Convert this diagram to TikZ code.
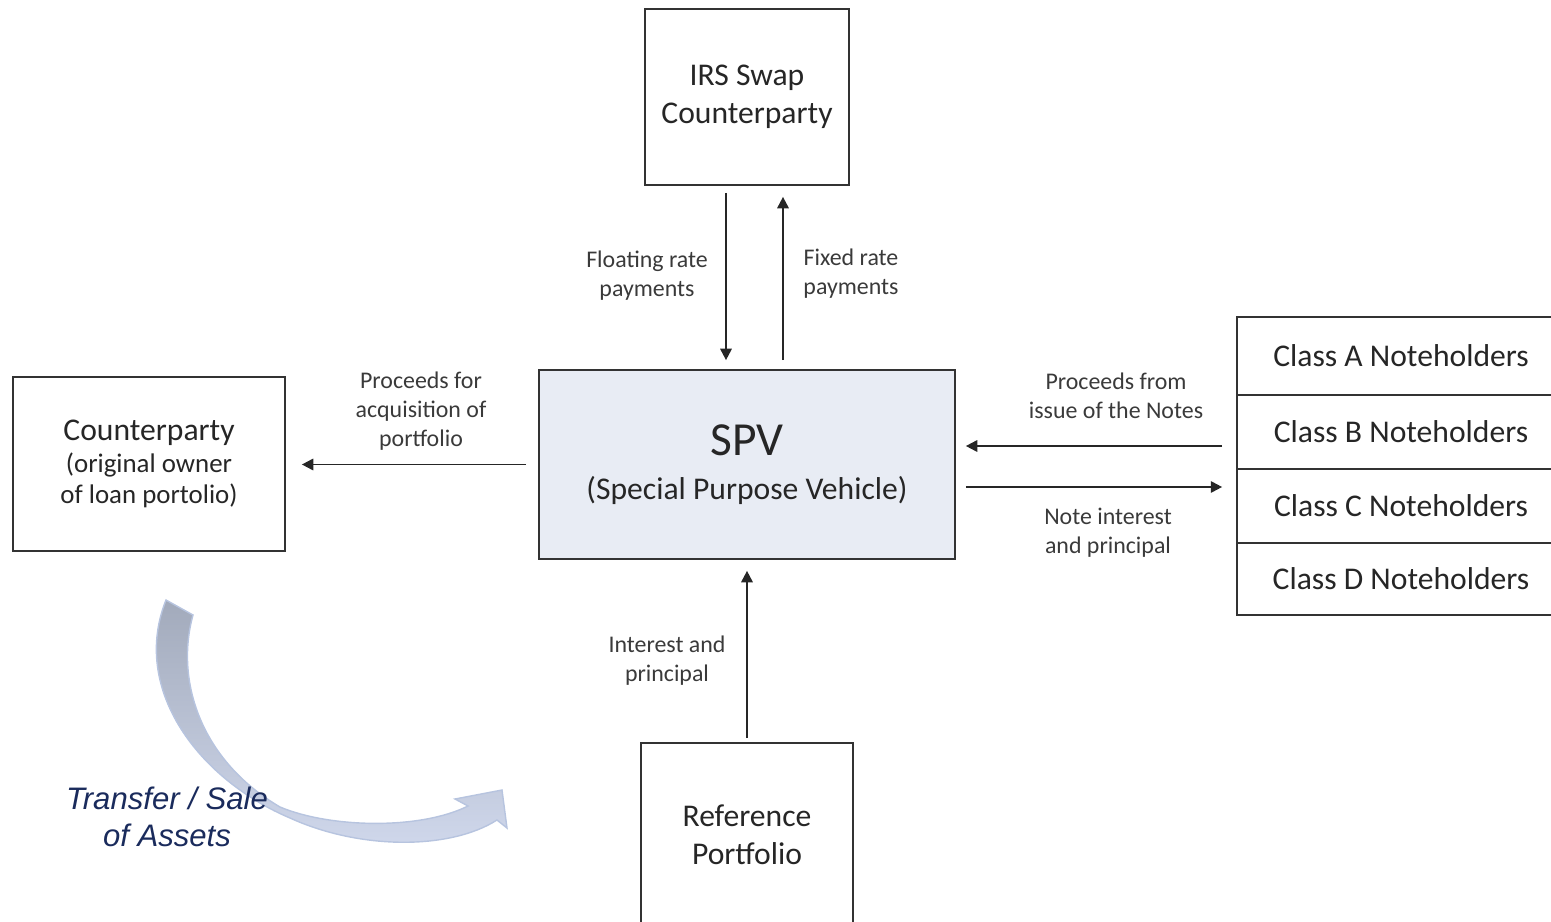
\documentclass[tikz,border=0pt]{standalone}
\usepackage{fontspec}
\setmainfont{Carlito}
\newfontfamily\arialfont{Liberation Sans}
\usetikzlibrary{arrows.meta,calc}
\definecolor{boxline}{HTML}{333333}
\definecolor{boxtext}{HTML}{262626}
\definecolor{lbltext}{HTML}{3A3A3A}
\definecolor{spvfill}{HTML}{E8ECF4}
\definecolor{navy}{HTML}{1A2B5C}
\definecolor{sweepTop}{HTML}{A2AABB}
\definecolor{sweepMid}{HTML}{A9B1C3}
\definecolor{sweepBot}{HTML}{D0D8EC}
\definecolor{sweepLine}{HTML}{B7C4DF}
\begin{document}
\begin{tikzpicture}[x=0.02cm,y=-0.02cm,
  box/.style={draw=boxline, line width=1pt, text=boxtext, align=center, inner sep=0pt,
    font=\fontsize{18}{21.5}\selectfont},
  lbl/.style={text=lbltext, align=center, inner sep=0pt, font=\fontsize{13.6}{16.4}\selectfont},
  arr/.style={draw=black!85, line width=1.1pt, -{Triangle[length=6.5pt,width=6.5pt]}}
]
\useasboundingbox (0,0) rectangle (1551,922);

% curved sweep arrow
\path[draw=sweepLine, line width=0.8pt, top color=sweepTop, middle color=sweepMid, bottom color=sweepBot]
  (166,600) -- (193,615)
  .. controls (175,680) and (200,760) .. (280,807)
  .. controls (330,828) and (420,830) .. (468,806)
  -- (455,799) -- (502,790) -- (507,828) -- (497,820)
  .. controls (450,850) and (360,850) .. (290,818)
  .. controls (200,780) and (130,690) .. (166,600) -- cycle;
\node[text=navy, align=center, inner sep=0pt, font=\arialfont\itshape\fontsize{17.7}{21}\selectfont]
  (tsa) at (167,817) {Transfer / Sale\\of Assets};

% boxes
\node[box, minimum width=4.08cm, minimum height=3.52cm] (irs) at (747,97) {IRS Swap\\Counterparty};
\node[box, fill=spvfill, minimum width=8.32cm, minimum height=3.78cm, font=\fontsize{18}{25}\selectfont]
  (spv) at (747,464.5) {{\fontsize{27}{25}\selectfont SPV}\\(Special Purpose Vehicle)};
\node[box, minimum width=5.44cm, minimum height=3.48cm, font=\fontsize{15.3}{18}\selectfont]
  (cp) at (149,464) {{\fontsize{18}{18}\selectfont Counterparty}\\(original owner\\of loan portolio)};
\node[box, minimum width=4.24cm, minimum height=3.68cm] (ref) at (747,835) {Reference\\Portfolio};
\node[box, minimum width=6.56cm, minimum height=1.56cm] (clsA) at (1401,356) {Class A Noteholders};
\node[box, minimum width=6.56cm, minimum height=1.48cm] (clsB) at (1401,432) {Class B Noteholders};
\node[box, minimum width=6.56cm, minimum height=1.48cm] (clsC) at (1401,506) {Class C Noteholders};
\node[box, minimum width=6.56cm, minimum height=1.44cm] (clsD) at (1401,579) {Class D Noteholders};

% connectors
\draw[arr, shorten <=0.14cm, shorten >=0.18cm] ([xshift=-0.42cm]irs.south) -- ([xshift=-0.42cm]spv.north);
\draw[arr, shorten <=0.18cm, shorten >=0.22cm] ([xshift=0.72cm]spv.north) -- ([xshift=0.72cm]irs.south);
\draw[arr, shorten <=0.24cm, shorten >=0.32cm] (spv.west) -- (spv.west -| cp.east);
\coordinate (iss) at ([yshift=0.37cm]spv.east);
\coordinate (ni) at ([yshift=-0.45cm]spv.east);
\draw[arr, shorten <=0.28cm, shorten >=0.2cm] (iss -| clsB.west) -- (iss);
\draw[arr, shorten <=0.2cm, shorten >=0.28cm] (ni) -- (ni -| clsC.west);
\draw[arr, shorten <=0.08cm, shorten >=0.22cm] (ref.north) -- (spv.south);

% labels
\node[lbl] (lfl) at (647,276) {Floating rate\\payments};
\node[lbl] (lfx) at (851,274) {Fixed rate\\payments};
\node[lbl] (lacq) at (421,411) {Proceeds for\\acquisition of\\portfolio};
\node[lbl] (liss) at (1116,396) {Proceeds from\\issue of the Notes};
\node[lbl] (lni) at (1108,533) {Note interest\\and principal};
\node[lbl] (lip) at (667,661) {Interest and\\principal};
\end{tikzpicture}
\end{document}
